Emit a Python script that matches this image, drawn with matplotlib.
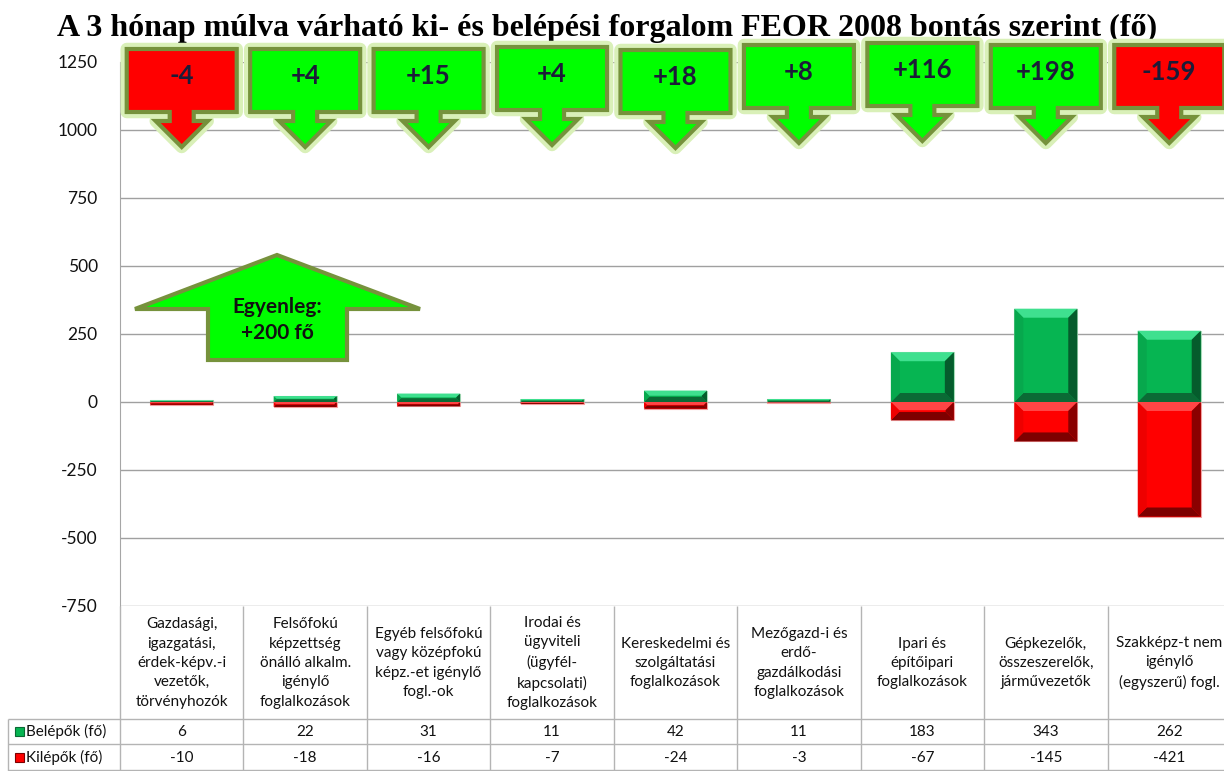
import numpy as np
import matplotlib.pyplot as plt
from matplotlib.patches import Polygon, Rectangle

# data
categories = [
    "Gazdasági,\nigazgatási,\nérdek-képv.-i\nvezetők,\ntörvényhozók",
    "Felsőfokú\nképzettség\nönálló alkalm.\nigénylő\nfoglalkozások",
    "Egyéb felsőfokú\nvagy középfokú\nképz.-et igénylő\nfogl.-ok",
    "Irodai és\nügyviteli\n(ügyfél-\nkapcsolati)\nfoglalkozások",
    "Kereskedelmi és\nszolgáltatási\nfoglalkozások",
    "Mezőgazd-i és\nerdő-\ngazdálkodási\nfoglalkozások",
    "Ipari és\népítőipari\nfoglalkozások",
    "Gépkezelők,\nösszeszerelők,\njárművezetők",
    "Szakképz-t nem\nigénylő\n(egyszerű) fogl.",
]
belepok = [6, 22, 31, 11, 42, 11, 183, 343, 262]
kilepok = [-10, -18, -16, -7, -24, -3, -67, -145, -421]
row_labels = ["Belépők (fő)", "Kilépők (fő)"]
yticks = [-750, -500, -250, 0, 250, 500, 750, 1000, 1250]
title = "A 3 hónap múlva várható ki- és belépési forgalom FEOR 2008 bontás szerint (fő)"

balance = [b + k for b, k in zip(belepok, kilepok)]
total = sum(balance)

plt.rcParams['font.family'] = ['Lato', 'DejaVu Sans']
plt.rcParams['axes.unicode_minus'] = False

W, H = 1224, 771
AX_L, AX_T, AX_B = 120, 62, 606
n = len(categories)
colw = 123.44
AX_W = colw * n

fig = plt.figure(figsize=(W / 100, H / 100), dpi=100)
ax = fig.add_axes([AX_L / W, 1 - AX_B / H, AX_W / W, (AX_B - AX_T) / H])

x = np.arange(n)
ax.set_xlim(-0.5, n - 0.5)
ax.set_ylim(-750, 1250)
ax.set_yticks(yticks)
ax.set_xticks([])
ax.grid(axis='y', color='#a0a0a0', lw=1)
ax.set_axisbelow(True)
for s in ['top', 'right', 'bottom']:
    ax.spines[s].set_visible(False)
ax.spines['left'].set_color('#a6a6a6')
ax.tick_params(axis='y', length=0, pad=16, labelsize=12.5, labelcolor='#111111')

green = dict(face='#06b552', top='#3fe08f', bottom='#0b6a35', left='#07a84d', right='#055c2c', edge='#a6dcb8')
red = dict(face='#ff0000', top='#ff4545', bottom='#7e0000', left='#ee0000', right='#8a0000', edge='#f2a0a0')

bars_g = ax.bar(x, belepok, width=0.51, color=green['face'], edgecolor=green['edge'], lw=0.8, zorder=3)
bars_r = ax.bar(x, kilepok, width=0.51, color=red['face'], edgecolor=red['edge'], lw=0.8, zorder=3)


def bevel(bars, pal):
    sx = colw
    sy = (AX_B - AX_T) / 2000
    for b in bars:
        x0, y0 = b.get_x(), b.get_y()
        w, h = b.get_width(), b.get_height()
        if h < 0:
            y0, h = y0 + h, -h
        x1, y1 = x0 + w, y0 + h
        d = min(9, h * sy * 0.45)
        bx, by = d / sx, d / sy
        parts = [
            ([(x0, y1), (x1, y1), (x1 - bx, y1 - by), (x0 + bx, y1 - by)], pal['top']),
            ([(x0, y0), (x1, y0), (x1 - bx, y0 + by), (x0 + bx, y0 + by)], pal['bottom']),
            ([(x0, y0), (x0 + bx, y0 + by), (x0 + bx, y1 - by), (x0, y1)], pal['left']),
            ([(x1, y0), (x1 - bx, y0 + by), (x1 - bx, y1 - by), (x1, y1)], pal['right']),
        ]
        for pts, c in parts:
            ax.add_patch(Polygon(pts, closed=True, facecolor=c, edgecolor='none', zorder=4))


bevel(bars_g, green)
bevel(bars_r, red)

# overlay in pixel coordinates
ov = fig.add_axes([0, 0, 1, 1], zorder=5)
ov.set_xlim(0, W)
ov.set_ylim(H, 0)
ov.axis('off')

fig.text(607 / W, 1 - 28 / H, title, ha='center', va='center', fontsize=23,
         fontweight='bold', family='Liberation Serif')

# data table
line_c = '#b4b4b4'
txt_c = '#111111'
edges = AX_L + np.arange(n + 1) * colw
ov.hlines([719, 744, 770], 8, W, color=line_c, lw=1)
ov.vlines(edges, AX_B, H, color=line_c, lw=1)
ov.vlines(8, 719, H, color=line_c, lw=1)
centers = AX_L + (x + 0.5) * colw
for cx, cat, b, k in zip(centers, categories, belepok, kilepok):
    ov.text(cx, 663, cat, ha='center', va='center', fontsize=11, linespacing=1.48, color=txt_c)
    ov.text(cx, 731.5, f"{b}", ha='center', va='center', fontsize=11, color=txt_c)
    ov.text(cx, 757.5, f"{k}", ha='center', va='center', fontsize=11, color=txt_c)
for yy, lab, pal in [(731.5, row_labels[0], green), (757.5, row_labels[1], red)]:
    ov.add_patch(Rectangle((15, yy - 4.5), 9, 9, facecolor=pal['face'], edgecolor=pal['bottom'], lw=0.8))
    ov.text(26, yy, lab, ha='left', va='center', fontsize=11, color=txt_c)

# balance callouts
edge_c = '#76923c'
glow_c = '#d9f0b8'
tops = [49, 49, 49, 47, 50, 45, 43, 45, 45]


def callout(cx, top, fill, label):
    pts = [(cx - 55, top), (cx + 55, top), (cx + 55, top + 63), (cx + 12, top + 63),
           (cx + 12, top + 72), (cx + 26, top + 72), (cx, top + 98), (cx - 26, top + 72),
           (cx - 12, top + 72), (cx - 12, top + 63), (cx - 55, top + 63)]
    ov.add_patch(Polygon(pts, closed=True, facecolor='none', edgecolor=glow_c, lw=9, joinstyle='round'))
    ov.add_patch(Polygon(pts, closed=True, facecolor=fill, edgecolor=edge_c, lw=3))
    ov.text(cx, top + 27, label, ha='center', va='center', fontsize=18.5, fontweight='bold', color='#1c1c38')


for cx, top, v in zip(centers, tops, balance):
    callout(cx, top, '#00ff00' if v >= 0 else '#ff0000', f"{v:+d}")

# total balance arrow
big = [(277, 255), (420, 309), (347, 309), (347, 360), (208, 360), (208, 309), (135, 309)]
ov.add_patch(Polygon(big, closed=True, facecolor='#00ff00', edgecolor=edge_c, lw=3))
ov.text(277, 320, f"Egyenleg:\n{total:+d} fő", ha='center', va='center', fontsize=15,
        fontweight='bold', linespacing=1.35, color='#111111')

fig.savefig("out.png", dpi=100)
